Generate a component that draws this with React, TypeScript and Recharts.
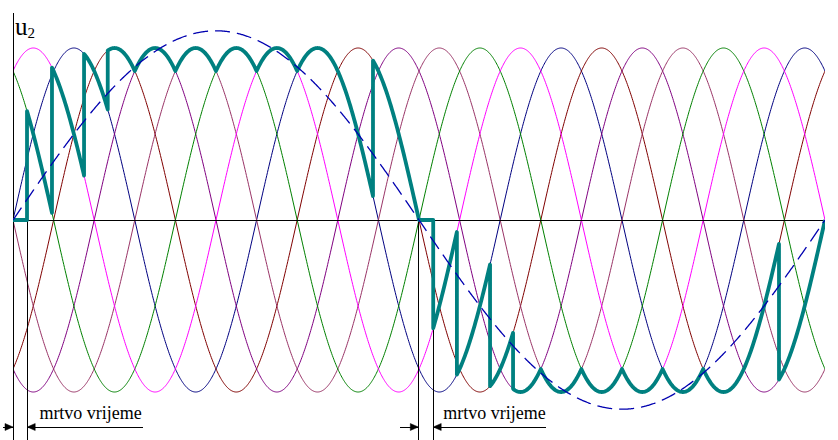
import React from 'react';
import { LineChart, Line, XAxis, YAxis, ReferenceLine, ReferenceDot } from 'recharts';

// Angle axis (degrees of the supply phase voltage)
const THETA_MAX = 1200;

// Six supply phases: phase offsets (degrees), colours, amplitude
const phaseOffsets = [0, -60, -120, -180, 120, 60];
const phaseColors = ['#000080', '#800000', '#800080', '#993366', '#008000', '#FF00FF'];
const phaseAmplitude = 1;

// Reference (dashed) output sine: amplitude and period in the same angle units
const refAmplitude = 1.1;
const refPeriod = 1200;

// Thick output voltage: pieces of the phase voltages (phase -1 = zero / dead time)
const tealFrom = [0, 20.7, 57.6, 105, 140, 180, 240, 300, 360, 420, 532, 600, 621, 656, 705, 739, 780, 840, 900, 960, 1020, 1132];
const tealTo = [20.7, 57.6, 105, 140, 180, 240, 300, 360, 420, 532, 600, 621, 656, 705, 739, 780, 840, 900, 960, 1020, 1132, 1200];
const tealPhase = [-1, 4, 5, 0, 1, 2, 3, 4, 5, 0, 1, -1, 5, 0, 1, 2, 3, 4, 5, 0, 1, 2];

// Dead-time intervals (start, end angle)
const deadStart = [0, 599];
const deadEnd = [21, 621];
const deadLabel = 'mrtvo vrijeme';
const axisLabel = 'u';
const axisLabelSub = '2';

const rad = Math.PI / 180;
const Y_MIN = -1.279;
const Y_MAX = 1.2035;

function phaseValue(i: number, t: number): number {
  if (i < 0) return 0;
  return phaseAmplitude * Math.sin((t + phaseOffsets[i]) * rad);
}

function sample(from: number, to: number, f: (t: number) => number) {
  const pts: { x: number; y: number }[] = [];
  const n = Math.max(1, Math.ceil(to - from));
  for (let k = 0; k <= n; k++) {
    const t = from + ((to - from) * k) / n;
    pts.push({ x: t, y: f(t) });
  }
  return pts;
}

const phaseData = phaseOffsets.map((_, i) => sample(0, THETA_MAX, (t) => phaseValue(i, t)));
const refData = sample(0, THETA_MAX, (t) => refAmplitude * Math.sin((t * 360) / refPeriod * rad));
const tealData = tealFrom.flatMap((f, s) => sample(f, tealTo[s], (t) => phaseValue(tealPhase[s], t)));

const SERIF = "'Liberation Serif', 'Times New Roman', 'DejaVu Serif', serif";
const ARROW_Y = -1.2035;
const TEXT_Y = -1.157;

const ArrowHead = (dir: number) => (props: any) => {
  const { cx, cy } = props;
  if (cx == null || cy == null) return <g />;
  const L = 8;
  const H = 3.5;
  const pts = `${cx},${cy} ${cx - dir * L},${cy - H} ${cx - dir * L},${cy + H}`;
  return <polygon points={pts} fill="#000" stroke="#000" strokeWidth={0.5} />;
};

const TextShape = (props: any) => {
  const { cx, cy } = props;
  if (cx == null || cy == null) return <g />;
  return (
    <text x={cx} y={cy} style={{ fontFamily: SERIF, fontSize: 18 }} fill="#000">
      {deadLabel}
    </text>
  );
};

const U2Shape = (props: any) => {
  const { cx, cy } = props;
  if (cx == null || cy == null) return <g />;
  return (
    <text x={cx} y={cy} style={{ fontFamily: SERIF, fontSize: 25 }} fill="#000">
      {axisLabel}
      <tspan style={{ fontSize: 15 }} dy={3}>
        {axisLabelSub}
      </tspan>
    </text>
  );
};

const lineProps = { stroke: '#000', strokeWidth: 1, shapeRendering: 'crispEdges' } as any;

export default function App() {
  return (
    <div style={{ position: 'absolute', left: 0, top: 0, width: 838, height: 440, background: '#fff' }}>
      <LineChart width={838} height={440} margin={{ top: 13, right: 13, bottom: 0, left: 13 }}>
        <XAxis type="number" dataKey="x" domain={[0, THETA_MAX]} hide allowDataOverflow />
        <YAxis type="number" dataKey="y" domain={[Y_MIN, Y_MAX]} hide allowDataOverflow />
        {phaseData.map((d, i) => (
          <Line
            key={'p' + i}
            data={d}
            dataKey="y"
            type="linear"
            stroke={phaseColors[i]}
            strokeWidth={1}
            dot={false}
            activeDot={false}
            isAnimationActive={false}
          />
        ))}
        <ReferenceLine y={0} {...lineProps} />
        <ReferenceLine x={0} {...lineProps} />
        {deadStart.map((s, i) => (
          <React.Fragment key={'dt' + i}>
            {s > 0 && (
              <ReferenceLine segment={[{ x: s, y: 0 }, { x: s, y: Y_MIN }]} {...lineProps} ifOverflow="visible" />
            )}
            <ReferenceLine segment={[{ x: deadEnd[i], y: 0 }, { x: deadEnd[i], y: Y_MIN }]} {...lineProps} ifOverflow="visible" />
            <ReferenceLine segment={[{ x: s - 14.8 - (s > 0 ? 13 : 0), y: ARROW_Y }, { x: s, y: ARROW_Y }]} {...lineProps} ifOverflow="visible" />
            <ReferenceLine segment={[{ x: deadEnd[i], y: ARROW_Y }, { x: deadEnd[i] + (i === 0 ? 171 : 166), y: ARROW_Y }]} {...lineProps} ifOverflow="visible" />
            <ReferenceDot x={s} y={ARROW_Y} r={4} ifOverflow="visible" shape={ArrowHead(1)} />
            <ReferenceDot x={deadEnd[i]} y={ARROW_Y} r={4} ifOverflow="visible" shape={ArrowHead(-1)} />
            <ReferenceDot x={deadEnd[i] + (i === 0 ? 18 : 15)} y={TEXT_Y} r={1} ifOverflow="visible" shape={TextShape} />
          </React.Fragment>
        ))}
        <Line
          data={tealData}
          dataKey="y"
          type="linear"
          stroke="#008080"
          strokeWidth={3.8}
          strokeLinejoin="round"
          dot={false}
          activeDot={false}
          isAnimationActive={false}
        />
        <Line
          data={refData}
          dataKey="y"
          type="linear"
          stroke="#0000B0"
          strokeWidth={1.3}
          strokeDasharray="15 7"
          dot={false}
          activeDot={false}
          isAnimationActive={false}
        />
        <ReferenceDot x={3} y={1.0756} r={1} ifOverflow="visible" shape={U2Shape} />
      </LineChart>
    </div>
  );
}
